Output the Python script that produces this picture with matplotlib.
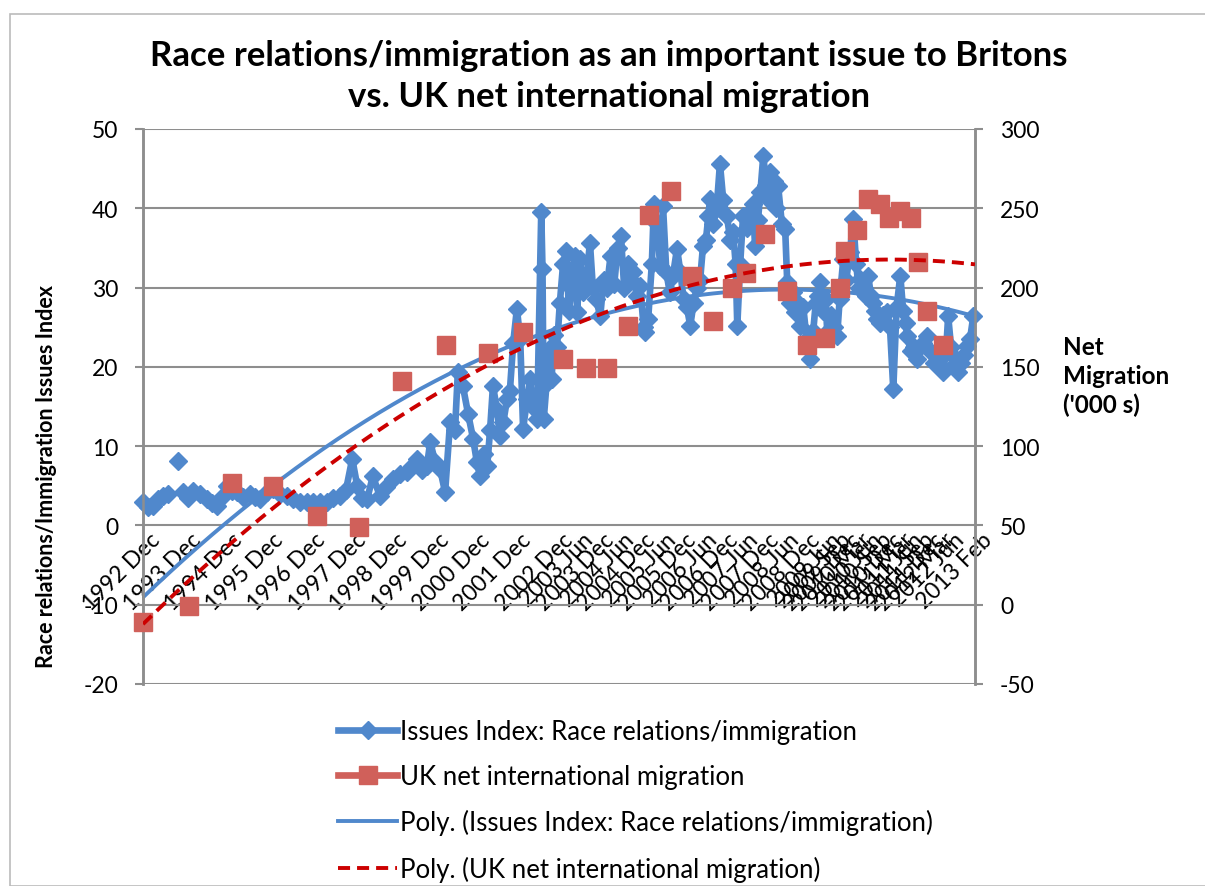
# Race relations / immigration issue index vs UK net migration
import numpy as np
import matplotlib.pyplot as plt
from matplotlib.lines import Line2D
from matplotlib.patches import Rectangle
import matplotlib.transforms as mtransforms

plt.rcParams['font.family'] = ['Lato', 'DejaVu Sans']
plt.rcParams['axes.unicode_minus'] = False

# Issues Index (left axis), dates as decimal years; nan = gap in the series
issue_year = [
    1992.92, 1993.04, 1993.16, 1993.28, 1993.40, 1993.52, 1993.64, 1993.77, 1993.83,
    1993.89, 1994.01, 1994.13, 1994.30, 1994.47, 1994.59, 1994.71, 1994.83, 1994.95,
    1995.08, 1995.20, 1995.34, 1995.51, 1995.63, 1995.76, 1995.93, 1996.07, 1996.24,
    1996.41, 1996.56, 1996.73, 1996.89, 1997.04, 1997.21, 1997.38, 1997.52, 1997.69,
    1997.84, 1997.99, 1998.11, 1998.23, 1998.35, 1998.49, 1998.66, 1998.81, 1998.98,
    1999.15, 1999.32, 1999.44, 1999.56, 1999.68, 1999.80, 1999.88, 2000.00, 2000.12,
    2000.24, 2000.36, 2000.48, 2000.55, 2000.67, 2000.80, 2000.92, 2001.01, 2001.09,
    2001.18, 2001.26, 2001.33, 2001.40, 2001.50, 2001.57, 2001.65, 2001.74, 2001.81,
    2001.89, 2001.98, 2002.06, 2002.13, 2002.23, 2002.30, 2002.37, 2002.47, 2002.57,
    2002.60, 2002.63, 2002.70, 2002.76, 2002.82, 2002.88, 2002.95, 2003.02, 2003.10,
    2003.18, 2003.24, 2003.30, 2003.38, 2003.44, 2003.51, 2003.58, 2003.66, 2003.75,
    2003.82, 2003.90, 2004.00, 2004.08, 2004.16, 2004.25, 2004.34, 2004.42, 2004.50,
    2004.58, 2004.66, 2004.72, 2004.80, 2004.88, 2004.97, 2005.05, 2005.09, 2005.16,
    2005.25, 2005.30, 2005.38, 2005.45, 2005.52, 2005.60, 2005.68, 2005.76, 2005.86,
    2005.94, 2006.02, 2006.10, 2006.18, 2006.26, 2006.34, 2006.42, 2006.49, 2006.56,
    2006.62, 2006.66, 2006.74, 2006.82, 2006.90, 2006.98, 2007.07, 2007.15, 2007.22,
    2007.28, 2007.32, 2007.39, 2007.46, 2007.55, 2007.63, 2007.70, 2007.75, 2007.82,
    2007.88, 2007.95, 2008.02, 2008.08, 2008.12, 2008.20, 2008.26, 2008.31, 2008.40,
    2008.48, 2008.53, 2008.60, 2008.66, 2008.72, 2008.78, 2008.84, 2008.92, 2009.00,
    2009.09, 2009.16, 2009.22, 2009.28, 2009.33, 2009.40, 2009.46, 2009.50, 2009.58,
    2009.66, 2009.74, 2009.80, 2009.89, 2009.96, 2010.05, 2010.13, 2010.20, 2010.26,
    2010.30, 2010.38, 2010.44, 2010.49, 2010.56, 2010.62, 2010.66, 2010.71, 2010.78,
    2010.86, 2010.95, 2011.02, 2011.10, 2011.18, 2011.27, 2011.34, 2011.40, 2011.44,
    2011.52, 2011.60, 2011.68, 2011.75, 2011.82, 2011.92, 2012.00, 2012.08, 2012.16,
    2012.24, 2012.31, 2012.38, 2012.43, 2012.50, 2012.55, 2012.62, 2012.68, 2012.74,
    2012.82, 2012.89, 2012.96, 2013.04,
]
issue_index = [
    3.0, 2.3, 2.5, 3.3, 3.7, 4.0, np.nan, 8.1, np.nan,
    4.2, 3.5, 4.3, 4.0, 3.3, 2.8, 2.5, 3.6, 5.0,
    4.4, 4.2, 3.6, 4.0, 3.6, 3.3, 4.2, 4.6, 4.0,
    3.7, 3.3, 3.0, 3.0, 3.0, 3.0, 3.0, 3.4, 3.7,
    4.5, 8.4, 5.0, 3.5, 3.3, 6.2, 3.7, 4.8, 5.8,
    6.5, 6.7, 7.5, 8.4, 7.0, 7.5, 10.5, 8.0, 7.1,
    4.2, 13.0, 12.0, 19.4, 17.6, 14.0, 10.9, 8.0, 6.2,
    9.0, 7.5, 12.0, 17.6, 14.5, 11.3, 13.0, 15.9, 17.0,
    23.0, 27.3, 23.5, 12.2, 16.0, 18.5, 15.0, 13.4, 39.5,
    32.3, 13.4, 18.0, 22.3, 18.5, 24.0, 22.5, 28.0, 33.0,
    34.6, 27.0, 30.0, 34.0, 26.9, 33.6, 29.5, 31.0, 35.6,
    30.0, 28.5, 26.4, 31.0, 30.0, 34.0, 30.5, 35.0, 36.5,
    30.0, 33.0, 31.1, 32.0, 29.0, 30.2, 25.0, 24.4, 26.0,
    33.0, 40.5, 38.0, 32.7, 40.3, 32.0, 29.5, 31.5, 34.9,
    32.0, 28.5, 27.5, 25.2, 28.0, 30.0, 31.0, 35.3, 36.0,
    39.0, 41.2, 38.0, 40.0, 45.6, 41.0, 39.0, 36.0, 37.0,
    33.0, 25.2, 33.0, 39.0, 37.5, 39.5, 40.5, 35.3, 38.5,
    42.0, 46.6, 43.0, 41.0, 44.6, 43.5, 40.0, 42.8, 38.0,
    37.4, 30.7, 28.0, 29.5, 26.9, 28.0, 25.2, 27.5, 23.5,
    21.0, 24.5, 28.0, 29.0, 30.7, 27.0, 28.5, 24.4, 26.5,
    25.0, 23.9, 28.5, 33.6, 31.0, 34.5, 38.6, 33.0, 30.0,
    31.1, 30.0, 29.0, 31.5, 29.0, 28.0, 27.0, 26.0, 25.5,
    26.5, 26.9, 25.0, 17.2, 27.5, 31.5, 27.0, 25.5, 23.9,
    22.0, 22.5, 21.0, 22.5, 23.0, 23.9, 22.0, 20.5, 21.9,
    20.0, 19.4, 22.0, 26.4, 22.5, 20.1, 21.0, 19.4, 20.5,
    21.5, 22.6, 23.5, 26.4,
]

# UK net international migration (right axis, '000s)
mig_year = [
    1992.92, 1994.03, 1995.08, 1996.07, 1997.14, 1998.16, 1999.20, 2000.26,
    2001.28, 2002.13, 2003.10, 2003.66, 2004.17, 2004.67, 2005.18, 2005.72,
    2006.23, 2006.74, 2007.20, 2007.54, 2008.00, 2008.53, 2009.00, 2009.45,
    2009.81, 2009.94, 2010.23, 2010.49, 2010.78, 2011.00, 2011.27, 2011.53,
    2011.70, 2011.92, 2012.31,
]
mig_value = [
    -11, -1, 77, 75, 56, 49, 141, 164,
    159, 172, 155, 149, 149, 176, 246, 261,
    207, 179, 200, 209, 234, 198, 164, 168,
    200, 223, 236, 256, 253, 244, 248, 244,
    216, 185, 164,
]

tick_text = [
    '1992 Dec', '1993 Dec', '1994 Dec', '1995 Dec', '1996 Dec', '1997 Dec',
    '1998 Dec', '1999 Dec', '2000 Dec', '2001 Dec', '2002 Dec', '2003 Jun',
    '2003 Dec', '2004 Jun', '2004 Dec', '2005 Jun', '2005 Dec', '2006 Jun',
    '2006 Dec', '2007 Jun', '2007 Dec', '2008 Jun', '2008 Dec', '2009 Jun',
    '2009 Sep', '2009 Dec', '2010 Mar', '2010 Jun', '2010 Sep', '2010 Dec',
    '2011 Mar', '2011 Jun', '2011 Sep', '2011 Dec', '2012 Mar', '2012 Jun',
    '2013 Feb',
]
tick_year = [
    1992.92, 1993.92, 1994.92, 1995.92, 1996.92, 1997.92,
    1998.92, 1999.92, 2000.92, 2001.92, 2002.92, 2003.42,
    2003.92, 2004.42, 2004.92, 2005.42, 2005.92, 2006.42,
    2006.92, 2007.42, 2007.92, 2008.42, 2008.92, 2009.42,
    2009.67, 2009.92, 2010.17, 2010.42, 2010.67, 2010.92,
    2011.17, 2011.42, 2011.67, 2011.92, 2012.17, 2012.42,
    2013.08,
]

blue = '#5088CC'
red = '#D0605A'
trend_red = '#CC0000'
grey = '#8E8E8E'

fig = plt.figure(figsize=(12.05, 8.87), dpi=100)
fig.patches.append(Rectangle((10/1205, 0), 1.0, 1 - 15/887, transform=fig.transFigure,
                             fill=False, edgecolor='#BBBBBB', lw=1.2))

ax = fig.add_axes([143/1205, 1 - 685/887, 832/1205, 555/887])
ax2 = ax.twinx()

# left axis: issues index
ax.plot(issue_year, issue_index, color=blue, lw=4.8, marker='D', ms=9.5,
        clip_on=False, zorder=3)
ix = np.array(issue_year)
iv = np.array(issue_index)
ok = ~np.isnan(iv)
p_issue = np.polyfit(ix[ok] - 2000, iv[ok], 2)
xs = np.linspace(1992.92, 2013.08, 300)
ax.plot(xs, np.polyval(p_issue, xs - 2000), color=blue, lw=2.8, zorder=4)

ax.set_xlim(1992.92, 2013.08)
ax.set_ylim(-20, 50)
ax.set_yticks(np.arange(-20, 51, 10))
ax.grid(axis='y', color=grey, lw=1.5)
ax.set_axisbelow(True)

# right axis: net migration
ax2.plot(mig_year, mig_value, ls='none', marker='s', ms=13.5, color=red,
         clip_on=False, zorder=3)
p_mig = np.polyfit(np.array(mig_year) - 2000, mig_value, 2)
ax2.plot(xs, np.polyval(p_mig, xs - 2000), color=trend_red, lw=2.8,
         dashes=(3.1, 1.8), zorder=4)
ax2.set_ylim(-50, 300)
ax2.set_yticks(np.arange(-50, 301, 50))

# category axis crosses at 0
ax.spines['bottom'].set_position(('data', 0))
ax.spines['bottom'].set_visible(False)
ax.spines['top'].set_visible(False)
ax2.spines['bottom'].set_visible(False)
ax2.spines['top'].set_visible(False)
for a in (ax, ax2):
    for s in ('left', 'right'):
        a.spines[s].set_color(grey)
        a.spines[s].set_linewidth(1.8)

ax.set_xticks(tick_year)
ax.set_xticklabels(tick_text, rotation=45, ha='right', va='top',
                   rotation_mode='anchor', fontsize=16.5)
ax.tick_params(axis='x', length=0, pad=8)
shift = mtransforms.ScaledTranslation(6/100, 8/100, fig.dpi_scale_trans)
for lab in ax.get_xticklabels():
    lab.set_transform(lab.get_transform() + shift)

ax.tick_params(axis='y', labelsize=16.5, length=6, width=1.5, color=grey, pad=12)
ax2.tick_params(axis='y', labelsize=16.5, length=6, width=1.5, color=grey, pad=12)

fig.text(47/1205, 1 - 477/887, 'Race relations/Immigration Issues Index',
         rotation=90, ha='center', va='center', fontsize=15.5, fontweight='bold')
fig.text(1063/1205, 1 - 377/887, "Net\nMigration\n('000 s)", ha='left',
         va='center', fontsize=17.5, fontweight='bold', linespacing=1.3)

fig.text(609/1205, 1 - 56/887, 'Race relations/immigration as an important issue to Britons',
         ha='center', va='center', fontsize=25, fontweight='bold')
fig.text(609/1205, 1 - 97/887, 'vs. UK net international migration',
         ha='center', va='center', fontsize=25, fontweight='bold')

handles = [
    Line2D([], [], color=blue, lw=4.8, marker='D', ms=9.5),
    Line2D([], [], color=red, lw=4.8, marker='s', ms=13.5),
    Line2D([], [], color=blue, lw=2.8),
    Line2D([], [], color=trend_red, lw=2.8, dashes=(3.1, 1.8)),
]
labels = [
    'Issues Index: Race relations/immigration',
    'UK net international migration',
    'Poly. (Issues Index: Race relations/immigration)',
    'Poly. (UK net international migration)',
]
fig.legend(handles, labels, loc='upper left', bbox_to_anchor=(328/1205, 1 - 710/887),
           frameon=False, fontsize=18.5, handlelength=2.3, handletextpad=0.1,
           labelspacing=0.78, borderaxespad=0)

fig.savefig('out.png', dpi=100)
